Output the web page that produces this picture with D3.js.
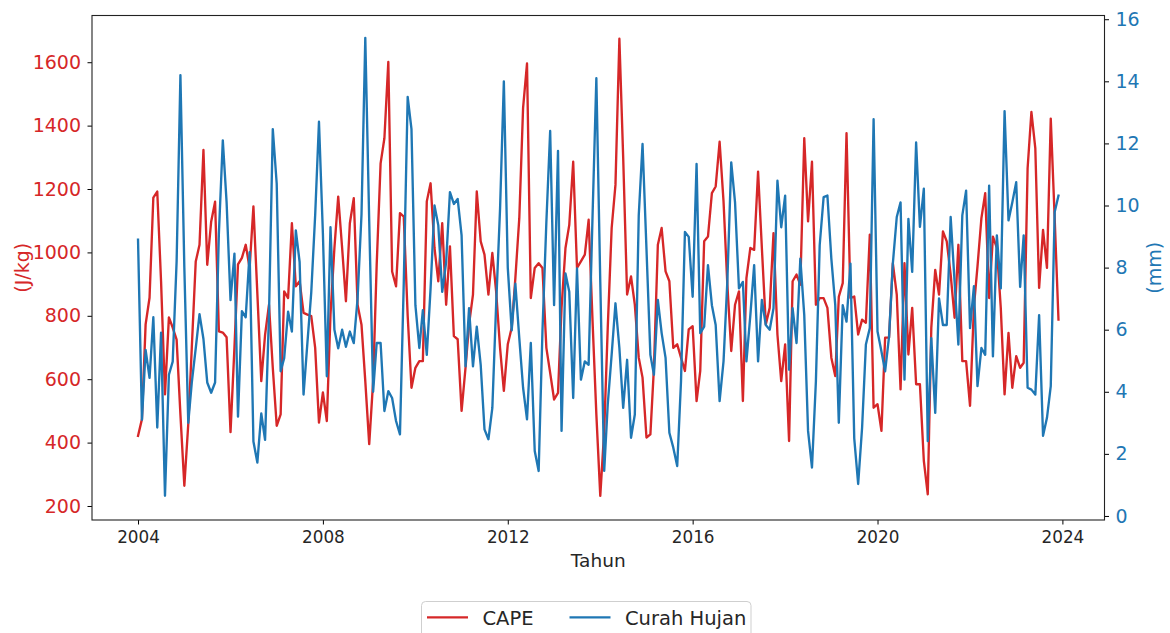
<!DOCTYPE html>
<html>
<head>
<meta charset="utf-8">
<script src="https://cdn.jsdelivr.net/npm/d3@7"></script>
<style>
  html, body { margin: 0; padding: 0; background: #ffffff; }
  svg { display: block; font-family: "DejaVu Sans", sans-serif; }
</style>
</head>
<body>
<svg id="chart" width="1170" height="633"></svg>
<script>
// ---- data (monthly, Jan 2004 .. Dec 2023) ----
const startYear = 2004;
const cape = [
  421, 474, 773, 857, 1173, 1192, 909, 552, 795, 763, 725, 489,
  264, 458, 700, 971, 1024, 1323, 961, 1097, 1160, 751, 747, 732,
  433, 700, 962, 983, 1024, 951, 1145, 870, 594, 740, 835, 636,
  453, 489, 877, 856, 1092, 893, 909, 809, 804, 799, 699, 463,
  558, 468, 804, 1014, 1176, 1014, 846, 1092, 1171, 835, 772, 594,
  395, 594, 960, 1281, 1360, 1601, 940, 893, 1124, 1113, 800, 573,
  636, 657, 657, 1161, 1218, 1014, 909, 1092, 835, 1019, 736, 726,
  500, 636, 773, 867, 1192, 1035, 993, 867, 998, 877, 699, 563,
  710, 762, 919, 1108, 1456, 1596, 856, 951, 966, 951, 699, 620,
  536, 557, 825, 1014, 1087, 1286, 951, 972, 993, 1103, 783, 489,
  232, 437, 762, 1077, 1213, 1674, 1300, 867, 924, 835, 668, 605,
  416, 426, 636, 1024, 1077, 940, 909, 699, 710, 668, 626, 757,
  767, 531, 626, 1035, 1050, 1187, 1208, 1349, 1161, 900, 689, 835,
  877, 531, 919, 1014, 1008, 1255, 1014, 773, 825, 1061, 741, 594,
  710, 405, 909, 930, 898, 1360, 1098, 1286, 835, 856, 856, 825,
  668, 610, 860, 903, 1376, 856, 861, 741, 788, 778, 1056, 510,
  521, 437, 731, 731, 966, 867, 568, 966, 678, 825, 584, 584,
  342, 237, 762, 945, 867, 1066, 1035, 930, 794, 1024, 657, 657,
  516, 830, 956, 1108, 1187, 856, 1050, 1014, 825, 552, 746, 573,
  673, 636, 652, 1265, 1443, 1328, 888, 1071, 951, 1422, 1108, 788
];
const curahHujan = [
  8.9, 3.1, 5.35, 4.45, 6.4, 2.85, 5.9, 0.65, 4.55, 4.97, 8.2, 14.2,
  8.0, 3.0, 4.3, 5.4, 6.5, 5.7, 4.3, 3.97, 4.3, 9.1, 12.1, 10.1,
  6.95, 8.45, 3.2, 6.6, 6.4, 8.5, 2.4, 1.72, 3.3, 2.45, 6.5, 12.46,
  10.7, 4.66, 5.08, 6.58, 5.94, 9.2, 8.18, 3.91, 5.6, 7.2, 9.7, 12.7,
  9.1, 4.5, 9.3, 6.0, 5.4, 6.0, 5.45, 5.94, 5.57, 7.0, 9.7, 15.4,
  9.5, 4.0, 5.57, 5.57, 3.38, 4.02, 3.8, 3.06, 2.63, 7.5, 13.5, 12.46,
  6.79, 5.41, 6.63, 5.19, 7.33, 10.0, 9.36, 7.22, 8.18, 10.43, 10.05, 10.21,
  9.04, 4.82, 6.69, 4.82, 6.1, 4.87, 2.79, 2.47, 3.48, 6.79, 9.89, 14.0,
  8.0, 5.98, 7.48, 5.73, 4.13, 3.11, 5.57, 2.09, 1.45, 5.94, 9.47, 12.4,
  6.79, 11.76, 2.74, 7.81, 7.22, 3.8, 7.97, 4.39, 4.98, 4.87, 9.68, 14.1,
  7.54, 1.45, 3.59, 5.2, 6.85, 5.41, 3.48, 5.03, 2.52, 3.27, 9.68, 11.98,
  8.61, 5.19, 4.55, 6.96, 5.89, 5.09, 2.68, 2.2, 1.61, 4.34, 9.15, 8.99,
  7.06, 11.34, 5.89, 6.1, 8.08, 6.79, 6.15, 3.7, 4.98, 7.54, 11.39, 10.1,
  7.33, 7.54, 4.98, 6.47, 8.08, 4.98, 6.96, 6.15, 6.0, 6.69, 10.8, 9.3,
  10.32, 4.71, 6.69, 5.57, 8.29, 6.47, 2.74, 1.56, 4.34, 8.72, 10.27, 10.32,
  8.29, 6.79, 3.0, 6.79, 6.26, 8.13, 2.5, 1.03, 2.84, 5.52, 6.05, 12.78,
  5.94, 5.3, 4.66, 5.78, 8.13, 9.63, 10.1, 4.39, 9.57, 7.86, 12.03, 9.31,
  10.54, 2.41, 5.73, 3.32, 7.01, 6.15, 6.15, 9.63, 7.54, 5.52, 9.68, 10.48,
  6.05, 7.4, 4.18, 5.41, 5.19, 10.64, 5.14, 9.04, 7.33, 13.04, 9.52, 10.1,
  10.75, 7.38, 9.04, 4.13, 4.07, 3.91, 6.47, 2.58, 3.16, 4.18, 9.79, 10.32
];
const xTickYears = [2004, 2008, 2012, 2016, 2020, 2024];
const capeTicks = [200, 400, 600, 800, 1000, 1200, 1400, 1600];
const rainTicks = [0, 2, 4, 6, 8, 10, 12, 14, 16];
const seriesNames = ["CAPE", "Curah Hujan"];
const xLabel = "Tahun";
const capeLabel = "(J/kg)";
const rainLabel = "(mm)";

// ---- layout ----
const RED = "#d62728", BLUE = "#1f77b4";
const L = 92, R = 1104.5, T = 15.5, B = 520;
const LW = 2.35;
const svg = d3.select("#chart");
svg.append("rect").attr("width", 1170).attr("height", 633).attr("fill", "#fff");

const dates = cape.map((_, i) => new Date(startYear, i, 1));
const t0 = dates[0].getTime(), t1 = dates[dates.length - 1].getTime();
const pad = (t1 - t0) * 0.05;
const x = d3.scaleTime().domain([new Date(t0 - pad), new Date(t1 + pad)]).range([L, R]);
const yL = d3.scaleLinear().domain([155.8, 1747.4]).range([B, T]);
const yR = d3.scaleLinear().domain([-0.13, 16.12]).range([B, T]);

const g = svg.append("g");

// lines
const clipId = "plotclip";
svg.append("clipPath").attr("id", clipId).append("rect")
  .attr("x", L).attr("y", T).attr("width", R - L).attr("height", B - T);

g.append("path")
  .datum(cape)
  .attr("clip-path", `url(#${clipId})`)
  .attr("fill", "none").attr("stroke", RED).attr("stroke-width", LW)
  .attr("stroke-linejoin", "round").attr("stroke-linecap", "square")
  .attr("d", d3.line().x((d, i) => x(dates[i])).y(d => yL(d)));

g.append("path")
  .datum(curahHujan)
  .attr("clip-path", `url(#${clipId})`)
  .attr("fill", "none").attr("stroke", BLUE).attr("stroke-width", LW)
  .attr("stroke-linejoin", "round").attr("stroke-linecap", "square")
  .attr("d", d3.line().x((d, i) => x(dates[i])).y(d => yR(d)));

// axes
const xAxis = d3.axisBottom(x)
  .tickValues(xTickYears.map(y => new Date(y, 0, 1)))
  .tickFormat(d3.timeFormat("%Y"))
  .tickSize(4.5).tickPadding(6);
const gx = svg.append("g").attr("transform", `translate(0,${B})`).call(xAxis);
gx.select(".domain").remove();
gx.selectAll(".tick line").attr("stroke", "#000").attr("stroke-width", 1);
gx.selectAll(".tick text").attr("fill", "#262626").attr("font-size", "16.8px")
  .attr("font-family", "DejaVu Sans").attr("dy", "0.76em");

const yAxisL = d3.axisLeft(yL).tickValues(capeTicks).tickFormat(d3.format("d"))
  .tickSize(4.5).tickPadding(6.5);
const gyl = svg.append("g").attr("transform", `translate(${L},0)`).call(yAxisL);
gyl.select(".domain").remove();
gyl.selectAll(".tick line").attr("stroke", "#000").attr("stroke-width", 1);
gyl.selectAll(".tick text").attr("fill", RED).attr("font-size", "19px")
  .attr("font-family", "DejaVu Sans");

const yAxisR = d3.axisRight(yR).tickValues(rainTicks).tickFormat(d3.format("d"))
  .tickSize(4.5).tickPadding(6.5);
const gyr = svg.append("g").attr("transform", `translate(${R},0)`).call(yAxisR);
gyr.select(".domain").remove();
gyr.selectAll(".tick line").attr("stroke", "#000").attr("stroke-width", 1);
gyr.selectAll(".tick text").attr("fill", BLUE).attr("font-size", "19px")
  .attr("font-family", "DejaVu Sans");

// frame
svg.append("rect").attr("x", L).attr("y", T).attr("width", R - L).attr("height", B - T)
  .attr("fill", "none").attr("stroke", "#222").attr("stroke-width", 1.1);

// axis labels
svg.append("text").attr("x", (L + R) / 2).attr("y", 566.5)
  .attr("text-anchor", "middle").attr("font-size", "18.5px").attr("fill", "#262626")
  .text(xLabel);
svg.append("text")
  .attr("transform", `translate(22,${(T + B) / 2}) rotate(-90)`)
  .attr("text-anchor", "middle").attr("dy", "0.35em")
  .attr("font-size", "19px").attr("fill", RED).text(capeLabel);
svg.append("text")
  .attr("transform", `translate(1154,${(T + B) / 2}) rotate(-90)`)
  .attr("text-anchor", "middle").attr("dy", "0.35em")
  .attr("font-size", "19px").attr("fill", BLUE).text(rainLabel);

// legend
const lg = svg.append("g");
lg.append("rect").attr("x", 421.5).attr("y", 601.5).attr("width", 329.5).attr("height", 50)
  .attr("rx", 4).attr("fill", "#fff").attr("stroke", "#cfcfcf").attr("stroke-width", 1);
const legendItems = [
  { name: seriesNames[0], color: RED, x0: 427 },
  { name: seriesNames[1], color: BLUE, x0: 569.5 }
];
legendItems.forEach(it => {
  lg.append("line").attr("x1", it.x0).attr("x2", it.x0 + 41).attr("y1", 617.3).attr("y2", 617.3)
    .attr("stroke", it.color).attr("stroke-width", LW);
  lg.append("text").attr("x", it.x0 + 55.5).attr("y", 624.6)
    .attr("font-size", "19.5px").attr("fill", "#262626").text(it.name);
});
</script>
</body>
</html>
